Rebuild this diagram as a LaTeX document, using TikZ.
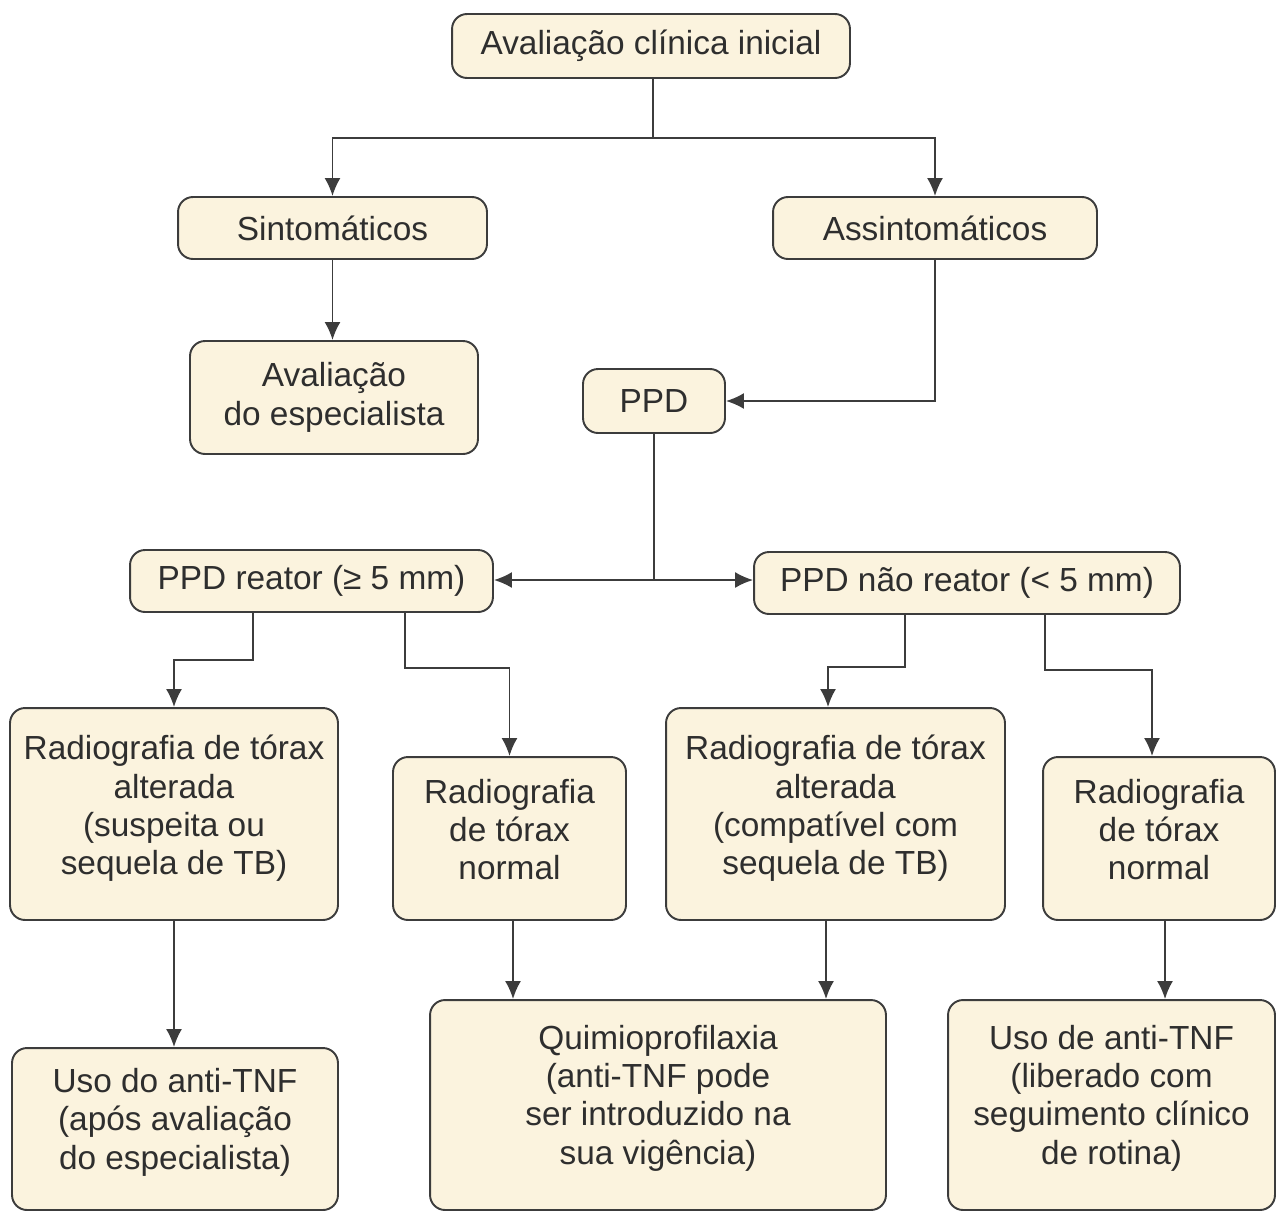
\documentclass[tikz,border=0pt]{standalone}
\usepackage{fontspec}
\setmainfont{Liberation Sans}
\usepackage{tikz}
\usetikzlibrary{arrows.meta}

\definecolor{boxfill}{HTML}{FBF3DE}
\definecolor{boxline}{HTML}{3C3C3C}
\definecolor{txt}{HTML}{2E2E2E}

\tikzset{
  caixa/.style={draw=boxline, fill=boxfill, line width=1.1pt, rounded corners=0.3cm,
    align=center, text=txt, inner sep=2pt,
    font=\fontsize{19}{21.8}\selectfont},
  liga/.style={draw=boxline, line width=1.1pt},
  seta/.style={liga, -{Latex[length=0.36cm,width=0.32cm]}}
}

\begin{document}
\begin{tikzpicture}[x=0.02cm, y=-0.02cm]
    \useasboundingbox (0,0) rectangle (1277,1211);

    % caixas
    \node[caixa, minimum width=7.96cm, minimum height=1.28cm] (inicial) at (651,46) {Avaliação clínica inicial};
    \node[caixa, minimum width=6.18cm, minimum height=1.24cm] (sint) at (332.5,228) {Sintomáticos};
    \node[caixa, minimum width=6.48cm, minimum height=1.24cm] (assint) at (935,228) {Assintomáticos};
    \node[caixa, minimum width=5.76cm, minimum height=2.26cm] (espec) at (334,397.5) {Avaliação\\do especialista};
    \node[caixa, minimum width=2.84cm, minimum height=1.28cm] (ppd) at (654,401) {PPD};
    \node[caixa, minimum width=7.26cm, minimum height=1.24cm] (reator) at (311.5,581) {PPD reator (≥ 5 mm)};
    \node[caixa, minimum width=8.52cm, minimum height=1.24cm] (naoreator) at (967,583) {PPD não reator (< 5 mm)};
    \node[caixa, minimum width=6.56cm, minimum height=4.24cm] (rxalt) at (174,814)
      {Radiografia de tórax\\alterada\\(suspeita ou\\sequela de TB)\\[-0.4cm]};
    \node[caixa, minimum width=4.66cm, minimum height=3.26cm] (rxnorm) at (509.5,838.5)
      {Radiografia\\de tórax\\normal\\[-0.4cm]};
    \node[caixa, minimum width=6.78cm, minimum height=4.24cm] (rxcomp) at (835.5,814)
      {Radiografia de tórax\\alterada\\(compatível com\\sequela de TB)\\[-0.4cm]};
    \node[caixa, minimum width=4.64cm, minimum height=3.26cm] (rxnorm2) at (1159,838.5)
      {Radiografia\\de tórax\\normal\\[-0.4cm]};
    \node[caixa, minimum width=6.52cm, minimum height=3.24cm] (usoapos) at (175,1129)
      {Uso do anti-TNF\\(após avaliação\\do especialista)\\[-0.35cm]};
    \node[caixa, minimum width=9.12cm, minimum height=4.2cm] (quimio) at (658,1105)
      {Quimioprofilaxia\\(anti-TNF pode\\ser introduzido na\\sua vigência)\\[-0.35cm]};
    \node[caixa, minimum width=6.54cm, minimum height=4.2cm] (usolib) at (1111.5,1105)
      {Uso de anti-TNF\\(liberado com\\seguimento clínico\\de rotina)\\[-0.35cm]};

    % pontos de desvio
    \coordinate (j1) at (653,138);
    \coordinate (j2) at (654,580);
    \coordinate (r1) at (253,660);
    \coordinate (r2) at (405,668);
    \coordinate (n1) at (905,667);
    \coordinate (n1b) at (828,667);
    \coordinate (n2) at (1045,670);
    \coordinate (n2b) at (1152,670);
    \coordinate (q1) at (513,960);
    \coordinate (q2) at (826,960);
    \coordinate (u2) at (1165,960);

    % ligacoes
    \draw[liga] (inicial.south -| j1) -- (j1);
    \draw[seta] (j1) -| (sint.north);
    \draw[seta] (j1) -| (assint.north);
    \draw[seta] (sint.south) -- (sint.south |- espec.north);
    \draw[seta] (assint.south) |- (ppd.east);
    \draw[liga] (ppd) -- (j2);
    \draw[seta] (j2) -- (reator.east |- j2);
    \draw[seta] (j2) -- (naoreator.west |- j2);
    \draw[seta] (reator.south -| r1) -- (r1) -| (rxalt.north);
    \draw[seta] (reator.south -| r2) -- (r2) -| (rxnorm.north);
    \draw[seta] (naoreator.south -| n1) -- (n1) -- (n1b) -- (n1b |- rxcomp.north);
    \draw[seta] (naoreator.south -| n2) -- (n2) -- (n2b) -- (n2b |- rxnorm2.north);
    \draw[seta] (rxalt.south) -- (rxalt.south |- usoapos.north);
    \draw[seta] (rxnorm.south -| q1) -- (quimio.north -| q1);
    \draw[seta] (rxcomp.south -| q2) -- (quimio.north -| q2);
    \draw[seta] (rxnorm2.south -| u2) -- (usolib.north -| u2);
\end{tikzpicture}
\end{document}
